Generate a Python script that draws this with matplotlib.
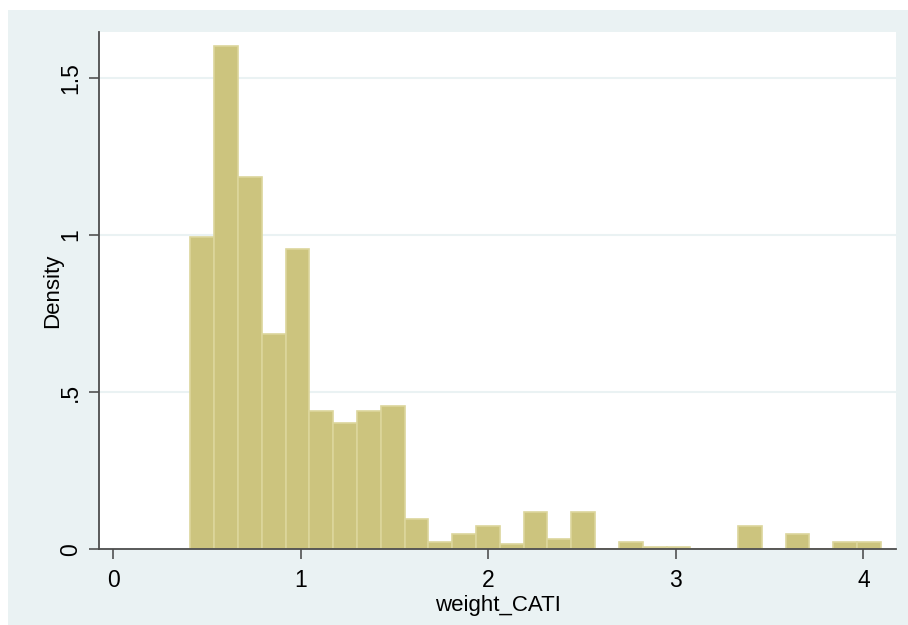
import matplotlib.pyplot as plt
import numpy as np
from matplotlib.patches import Rectangle

plt.rcParams['font.family'] = ['Liberation Sans', 'DejaVu Sans']

# histogram of weight_CATI (density per bin)
bin_start = 0.41
bin_width = 0.127
density = [0.992, 1.602, 1.183, 0.686, 0.954, 0.441, 0.401, 0.441, 0.457, 0.095,
           0.022, 0.048, 0.073, 0.017, 0.118, 0.032, 0.118, 0.0, 0.023, 0.007,
           0.007, 0.0, 0.0, 0.073, 0.0, 0.048, 0.0, 0.023, 0.023]
x_ticks = [0, 1, 2, 3, 4]
x_labels = ['0', '1', '2', '3', '4']
y_ticks = [0, 0.5, 1, 1.5]
y_labels = ['0', '.5', '1', '1.5']

bg = '#eaf2f3'
fill = '#ccc47e'
edge = '#dcd69c'

fig = plt.figure(figsize=(9.08, 6.25), dpi=100)
fig.patches.append(Rectangle((8 / 908, 0), 1, 615 / 625, transform=fig.transFigure,
                             facecolor=bg, edgecolor='none', zorder=-10))
ax = fig.add_axes([99 / 908, 1 - 549.3 / 625, 797 / 908, 517.3 / 625])
ax.set_zorder(1)
ax.set_facecolor('white')

lefts = bin_start + bin_width * np.arange(len(density))
ax.bar(lefts, density, width=bin_width, align='edge', color=fill,
       edgecolor=edge, linewidth=1.2, zorder=2)

ax.set_xlim(-0.077, 4.174)
ax.set_ylim(0, 1.645)
ax.set_xticks(x_ticks)
ax.set_xticklabels(x_labels)
ax.set_yticks(y_ticks)
ax.set_yticklabels(y_labels, rotation=90, va='center')
ax.grid(axis='y', color=bg, linewidth=1.5, zorder=1)
ax.set_axisbelow(True)

for s in ['top', 'right']:
    ax.spines[s].set_visible(False)
for s in ['left', 'bottom']:
    ax.spines[s].set_color('#4d4d4d')
    ax.spines[s].set_linewidth(1.3)
    ax.spines[s].set_zorder(3)

ax.tick_params(axis='both', length=7, width=1.1, color='#444444',
               labelsize=16.5, pad=7)
ax.tick_params(axis='y', pad=5)

ax.set_xlabel('weight_CATI', fontsize=16, labelpad=2)
ax.set_ylabel('Density', fontsize=16, labelpad=-3)

fig.savefig('out.png', dpi=100)
